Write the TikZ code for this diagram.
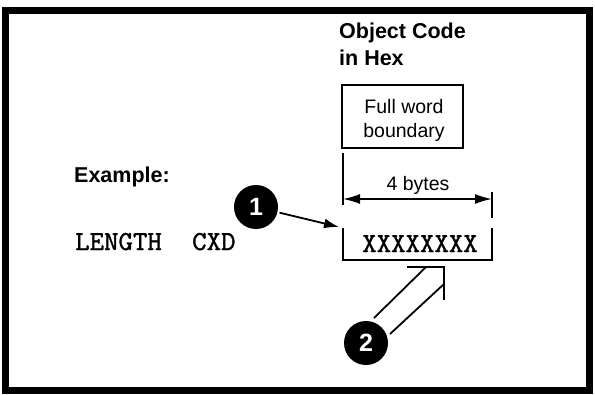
\documentclass[tikz,border=0pt]{standalone}
\usepackage{fontspec}
\setsansfont{Liberation Sans}
\newfontfamily\codefont[FakeBold=1.2]{lmmono10-regular.otf}
\usetikzlibrary{arrows.meta}
\begin{document}
\begin{tikzpicture}[x=1pt,y=-1pt,
  head/.style={font=\fontsize{21.5}{21.5}\selectfont\sffamily\bfseries, anchor=base west, inner sep=0},
  lab/.style={font=\fontsize{19.5}{19.5}\selectfont\sffamily, anchor=base, inner sep=0},
  code/.style={font=\fontsize{27.5}{27.5}\selectfont\codefont, anchor=base west, inner sep=0},
  num/.style={circle, fill=black, minimum size=44pt, inner sep=0, text=white, font=\fontsize{25}{25}\selectfont\sffamily\bfseries},
  ln/.style={line width=1.8pt},
  tip/.style={-{Latex[length=15pt,width=10pt]}},
  dim/.style={{Latex[length=17pt,width=10pt]}-{Latex[length=17pt,width=10pt]}}
]
\useasboundingbox (0,0) rectangle (595,394);
\draw[line width=7pt] (5.5,10) rectangle (589.5,390.5);

% headings
\node[head] (oc) at (339,38) {Object Code};
\node[head] (hex) at (339,65) {in Hex};
\node[head] (ex) at (74,182) {Example:};

% full word boundary box
\node[draw, line width=1.8pt, minimum width=121pt, minimum height=63pt, inner sep=0] (fw) at (402.5,116.5) {};
\node[lab] (fw1) at (404,113) {Full word};
\node[lab] (fw2) at (404,137) {boundary};

% dimension
\coordinate (v1) at (343,153);
\coordinate (v2) at (343,205);
\draw[ln] (v1) -- (v2);
\coordinate (t1) at (492,192);
\coordinate (t2) at (492,218);
\draw[ln] (t1) -- (t2);
\coordinate (d1) at (343,199);
\coordinate (d2) at (492,199);
\draw[ln, dim] (d1) -- (d2);
\node[lab] (fb) at (418,190) {4 bytes};

% open box with object code
\coordinate (b1) at (343,228);
\coordinate (b2) at (343,260);
\coordinate (b3) at (492,260);
\coordinate (b4) at (492,228);
\draw[ln] (b1) -- (b2) -- (b3) -- (b4);
\node[code, anchor=base] (xs) at (420,252) {XXXXXXXX};

% source statement
\node[code] (len) at (75,250) {LENGTH};
\node[code] (cxd) at (192,250) {CXD};

% numbered circles
\node[num] (c1) at (256,207) {1};
\node[num] (c2) at (366,343) {2};

% arrow 1
\coordinate (a1) at (339,227);
\draw[ln, tip, shorten <=2pt] (c1) -- (a1);

% arrow 2 (hollow)
\coordinate (sa) at (374,318);
\coordinate (ea) at (426,267);
\coordinate (sb) at (390,334);
\coordinate (eb) at (444,284);
\coordinate (h1) at (407,267);
\coordinate (h2) at (444,267);
\coordinate (h3) at (444,300);
\draw[ln] (sa) -- (ea);
\draw[ln] (sb) -- (eb);
\draw[ln] (h1) -- (h2) -- (h3);
\end{tikzpicture}
\end{document}
